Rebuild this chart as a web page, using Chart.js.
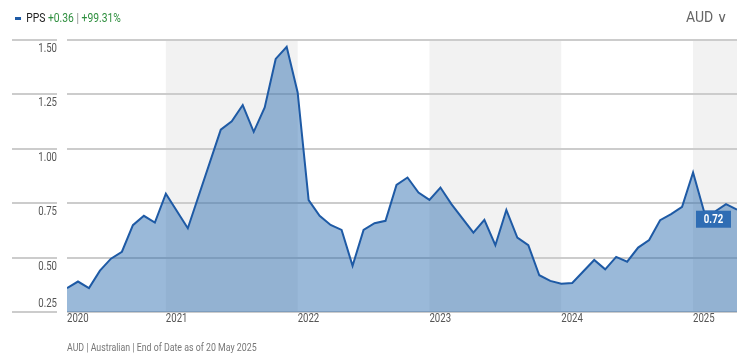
<!DOCTYPE html>
<html>
<head>
<meta charset="utf-8">
<script src="https://cdn.jsdelivr.net/npm/chart.js@4/dist/chart.umd.min.js"></script>
<style>
  html, body { margin: 0; padding: 0; background: #fff; }
  #wrap { position: relative; width: 750px; height: 360px; overflow: hidden;
          font-family: 'Roboto', 'Liberation Sans', sans-serif; }
  #chart { position: absolute; left: 0; top: 0; }
  .head { position: absolute; left: 15px; top: 10px; font-size: 12px; line-height: 16px; white-space: nowrap;
          transform: scaleX(0.86); transform-origin: 0 0; }
  .head .dash { display: inline-block; width: 7px; height: 3px; background: #1e5aa5; vertical-align: middle; margin-right: 6px; }
  .head .name { color: #222; }
  .head .up { color: #2f8f3f; }
  .head .sep { color: #888; }
  .ccy { position: absolute; left: 686px; top: 8px; font-size: 14px; line-height: 18px; color: #666; }
  .foot { position: absolute; left: 67px; top: 341px; font-size: 11px; line-height: 14px; color: #777; white-space: nowrap;
          transform: scaleX(0.8); transform-origin: 0 0; }
</style>
</head>
<body>
<div id="wrap">
  <canvas id="chart" width="750" height="360"></canvas>
  <div class="head"><span class="dash"></span><span class="name">PPS</span> <span class="up">+0.36</span><span class="sep"> | </span><span class="up">+99.31%</span></div>
  <div class="ccy">AUD &#8744;</div>
  <div class="foot">AUD | Australian | End of Date as of 20 May 2025</div>
</div>
<script>
// month-end prices (AUD)
var months = ['2020-04','2020-05','2020-06','2020-07','2020-08','2020-09','2020-10','2020-11','2020-12',
              '2021-01','2021-03','2021-06','2021-07','2021-08','2021-09','2021-10','2021-11','2021-12',
              '2022-01','2022-02','2022-03','2022-04','2022-05','2022-06','2022-07','2022-08','2022-09','2022-10','2022-11','2022-12',
              '2023-01','2023-02','2023-03','2023-05','2023-06','2023-07','2023-08','2023-09','2023-10','2023-11','2023-12',
              '2024-01','2024-02','2024-04','2024-05','2024-06','2024-07','2024-08','2024-09','2024-10','2024-11','2024-12',
              '2025-01','2025-02','2025-03','2025-04','2025-05'];
var prices = [0.36, 0.39, 0.36, 0.44, 0.495, 0.527, 0.649, 0.692, 0.661,
              0.794, 0.635, 1.088, 1.126, 1.201, 1.078, 1.190, 1.413, 1.469,
              1.259, 0.764, 0.692, 0.650, 0.627, 0.462, 0.627, 0.658, 0.669, 0.834, 0.868, 0.799,
              0.765, 0.822, 0.746, 0.615, 0.673, 0.557, 0.719, 0.592, 0.557, 0.419, 0.393,
              0.380, 0.383, 0.489, 0.446, 0.503, 0.481, 0.546, 0.581, 0.672, 0.700, 0.733,
              0.891, 0.712, 0.712, 0.746, 0.720];
var yearTicks = [2021, 2022, 2023, 2024, 2025];
var shadedYears = [2021, 2023, 2025];
var lastLabel = '0.72';

var gridColor = '#cccccc';
var font = "'Roboto', 'Liberation Sans', sans-serif";
var squeeze = 0.8; // reference uses a condensed face

function toYear(m) {
    var p = m.split('-');
    return +p[0] + (+p[1] - 1) / 12;
}

var points = months.map(function (m, i) { return { x: toYear(m), y: prices[i] }; });

function narrowText(ctx, txt, x, y, align) {
    ctx.save();
    ctx.translate(x, y);
    ctx.scale(squeeze, 1);
    ctx.textAlign = align;
    ctx.fillText(txt, 0, 0);
    ctx.restore();
}

var bandsAndLabels = {
    id: 'bandsAndLabels',
    beforeDraw: function (chart) {
        var ctx = chart.ctx, a = chart.chartArea, x = chart.scales.x, y = chart.scales.y;
        ctx.save();
        ctx.fillStyle = '#f2f2f2';
        shadedYears.forEach(function (yr) {
            var x0 = Math.max(x.getPixelForValue(yr), a.left);
            var x1 = Math.min(x.getPixelForValue(yr + 1), a.right);
            if (x1 > x0) ctx.fillRect(x0, a.top, x1 - x0, a.bottom - a.top);
        });
        // y labels sit under short lines left of the plot (the lowest one above)
        ctx.strokeStyle = gridColor;
        ctx.lineWidth = 2;
        ctx.fillStyle = '#555';
        ctx.font = '12px ' + font;
        ctx.textBaseline = 'middle';
        y.ticks.forEach(function (t, i) {
            var py = Math.round(y.getPixelForValue(t.value));
            ctx.beginPath();
            ctx.moveTo(12, py);
            ctx.lineTo(57, py);
            ctx.stroke();
            narrowText(ctx, t.value.toFixed(2), 57, i === 0 ? py - 8 : py + 9, 'right');
        });
        // year labels, left aligned on their tick
        ctx.textBaseline = 'middle';
        x.ticks.forEach(function (t) {
            narrowText(ctx, String(Math.floor(t.value + 0.001)), x.getPixelForValue(t.value), a.bottom + 7, 'left');
        });
        ctx.restore();
    },
    afterDatasetsDraw: function (chart) {
        var ctx = chart.ctx;
        var pt = chart.getDatasetMeta(0).data[prices.length - 1];
        var w = 35, h = 17;
        var bx = pt.x - w - 6, by = pt.y + 1;
        ctx.save();
        ctx.fillStyle = '#2f6db4';
        ctx.fillRect(bx, by, w, h);
        ctx.fillStyle = '#fff';
        ctx.font = 'bold 12px ' + font;
        ctx.textBaseline = 'middle';
        narrowText(ctx, lastLabel, bx + w / 2, by + h / 2 + 0.5, 'center');
        ctx.restore();
    }
};

new Chart(document.getElementById('chart'), {
    type: 'line',
    data: {
        datasets: [{
            data: points,
            borderColor: '#1e5aa5',
            borderWidth: 2,
            backgroundColor: 'rgba(30,100,170,0.45)',
            fill: 'start',
            pointRadius: 0,
            tension: 0
        }]
    },
    options: {
        responsive: false,
        animation: false,
        layout: { padding: { left: 67, right: 13, top: 40, bottom: 28 } },
        plugins: { legend: { display: false }, tooltip: { enabled: false } },
        scales: {
            x: {
                type: 'linear',
                min: toYear(months[0]),
                max: toYear(months[months.length - 1]),
                grid: { display: false },
                border: { display: false },
                afterBuildTicks: function (scale) {
                    scale.ticks = [{ value: scale.min }].concat(yearTicks.map(function (v) { return { value: v }; }));
                },
                afterFit: function (scale) { scale.height = 20; },
                ticks: { autoSkip: false, maxRotation: 0, display: false }
            },
            y: {
                min: 0.25,
                max: 1.5,
                afterFit: function (scale) { scale.width = 0; },
                border: { display: false },
                grid: { color: gridColor, lineWidth: 2, drawTicks: false },
                ticks: { stepSize: 0.25, display: false }
            }
        }
    },
    plugins: [bandsAndLabels]
});
</script>
</body>
</html>
